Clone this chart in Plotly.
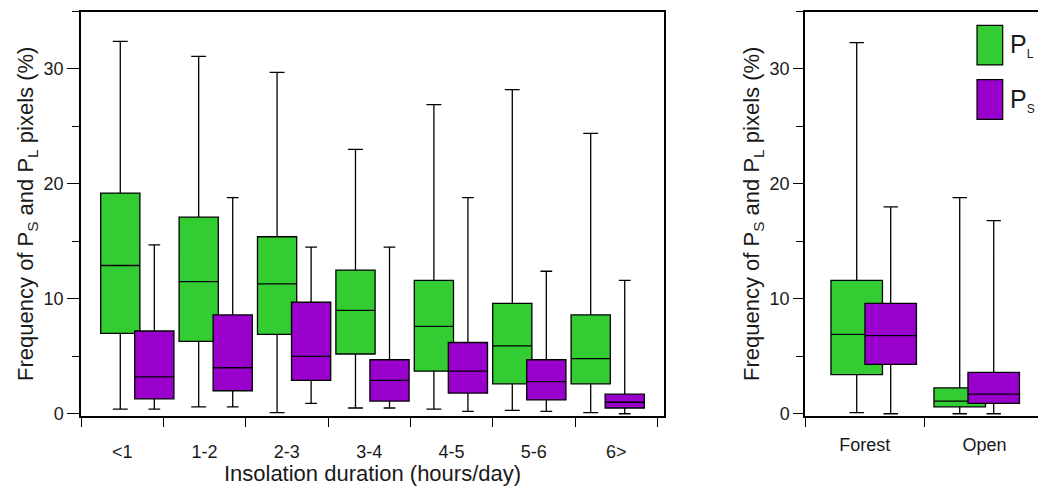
import plotly.graph_objects as go

# ---------------- data ----------------
insolation_cats = ["<1", "1-2", "2-3", "3-4", "4-5", "5-6", "6>"]

pl_upper = [32.4, 31.1, 29.7, 23.0, 26.9, 28.2, 24.4]
pl_q3 = [19.2, 17.1, 15.4, 12.5, 11.6, 9.6, 8.6]
pl_median = [12.9, 11.5, 11.3, 9.0, 7.6, 5.9, 4.8]
pl_q1 = [7.0, 6.3, 6.9, 5.2, 3.7, 2.6, 2.6]
pl_lower = [0.4, 0.6, 0.1, 0.5, 0.4, 0.3, 0.1]

ps_upper = [14.7, 18.8, 14.5, 14.5, 18.8, 12.4, 11.6]
ps_q3 = [7.2, 8.6, 9.7, 4.7, 6.2, 4.7, 1.7]
ps_median = [3.2, 4.0, 5.0, 2.9, 3.7, 2.8, 1.0]
ps_q1 = [1.3, 2.0, 2.9, 1.1, 1.8, 1.2, 0.5]
ps_lower = [0.4, 0.6, 0.9, 0.5, 0.2, 0.2, 0.0]

land_cats = ["Forest", "Open"]
land_pl_upper = [32.3, 18.8]
land_pl_q3 = [11.6, 2.25]
land_pl_median = [6.9, 1.1]
land_pl_q1 = [3.4, 0.6]
land_pl_lower = [0.1, 0.0]

land_ps_upper = [18.0, 16.8]
land_ps_q3 = [9.6, 3.6]
land_ps_median = [6.8, 1.7]
land_ps_q1 = [4.3, 0.9]
land_ps_lower = [0.0, 0.0]

y_ticks = [0, 10, 20, 30]

# ---------------- style ----------------
GREEN = "#33CC33"
PURPLE = "#9900CC"
FONT = "Arial, Liberation Sans, sans-serif"
TXT = "#1a1a1a"
W, H = 1038, 486
PURPLE_OFFSET_L = 0.434
PURPLE_OFFSET_R = 0.33
TICK_FS = 18
TITLE_FS = 22

fig = go.Figure()

n = len(insolation_cats)
xg = list(range(n))
xp = [i + PURPLE_OFFSET_L for i in xg]


def add_box(x, q1, med, q3, lo, hi, color, ww, xa, ya, width):
    fig.add_trace(go.Box(
        x=x, q1=q1, median=med, q3=q3, lowerfence=lo, upperfence=hi,
        width=width, whiskerwidth=ww, fillcolor=color,
        line=dict(color="black", width=1.3), boxpoints=False,
        xaxis=xa, yaxis=ya, showlegend=False, hoverinfo="skip"))


add_box(xg, pl_q1, pl_median, pl_q3, pl_lower, pl_upper, GREEN, 0.38, "x", "y", 0.5)
add_box(xp, ps_q1, ps_median, ps_q3, ps_lower, ps_upper, PURPLE, 0.3, "x", "y", 0.5)

m = len(land_cats)
rg = list(range(m))
rp = [i + PURPLE_OFFSET_R for i in rg]
add_box(rg, land_pl_q1, land_pl_median, land_pl_q3, land_pl_lower, land_pl_upper, GREEN, 0.28, "x2", "y2", 0.5)
add_box(rp, land_ps_q1, land_ps_median, land_ps_q3, land_ps_lower, land_ps_upper, PURPLE, 0.28, "x2", "y2", 0.5)

# invisible traces to register label categories on the overlay axes
fig.add_trace(go.Scatter(x=insolation_cats, y=[0] * n, mode="markers",
                         marker=dict(opacity=0), xaxis="x3", yaxis="y",
                         showlegend=False, hoverinfo="skip"))
fig.add_trace(go.Scatter(x=land_cats, y=[0] * m, mode="markers",
                         marker=dict(opacity=0), xaxis="x4", yaxis="y2",
                         showlegend=False, hoverinfo="skip"))

# geometry (pixels -> paper)
L_X0, L_X1 = 81 / W, 664 / W
R_X0, R_X1 = 805 / W, 1.0
Y0, Y1 = (H - 423) / H, (H - 11.7) / H

ytitle = "Frequency of P<sub>S</sub> and P<sub>L</sub> pixels (%)"
tickfont = dict(size=TICK_FS, color=TXT, family=FONT)
titlefont = dict(size=TITLE_FS, color=TXT, family=FONT)

common_y = dict(range=[-0.2, 35], tickvals=y_ticks, ticks="outside",
                tickcolor="black", showline=True, linecolor="black", linewidth=1.5,
                showgrid=False, zeroline=False, tickfont=tickfont,
                minor=dict(dtick=5, tick0=0, ticks="outside", ticklen=7, tickcolor="black"),
                domain=[Y0, Y1])

fig.update_layout(
    width=W, height=H, autosize=False,
    margin=dict(l=0, r=0, t=0, b=0),
    paper_bgcolor="white", plot_bgcolor="white",
    font=dict(family=FONT, color=TXT),
    xaxis=dict(domain=[L_X0, L_X1], range=[-0.501, 6.935], showticklabels=False,
               ticks="", showline=True, mirror=True, linecolor="black", linewidth=1.5,
               showgrid=False, zeroline=False, anchor="y"),
    xaxis3=dict(overlaying="x", type="category", categoryorder="array",
                categoryarray=insolation_cats, range=[-0.5, 6.581],
                tickson="boundaries", ticks="outside", ticklen=10, tickcolor="black",
                showline=False, showgrid=False, zeroline=False, anchor="y", side="bottom",
                tickfont=tickfont, ticklabelstandoff=23,
                title=dict(text="Insolation duration (hours/day)", font=titlefont, standoff=0)),
    yaxis=dict(anchor="x", mirror=True, ticklen=12,
               title=dict(text=ytitle, font=titlefont, standoff=4),
               **common_y),
    xaxis2=dict(domain=[R_X0, R_X1], range=[-0.502, 1.76], showticklabels=False,
                ticks="", showline=True, mirror=True, linecolor="black", linewidth=1.5,
                showgrid=False, zeroline=False, anchor="y2"),
    xaxis4=dict(overlaying="x2", type="category", categoryorder="array",
                categoryarray=land_cats, range=[-0.5, 1.4465],
                tickson="boundaries", ticks="outside", ticklen=10, tickcolor="black",
                showline=False, showgrid=False, zeroline=False, anchor="y2", side="bottom",
                tickfont=tickfont, ticklabelstandoff=16),
    yaxis2=dict(anchor="x2", mirror=False, ticklen=10,
                title=dict(text=ytitle, font=titlefont, standoff=4),
                **common_y),
)

# legend drawn in the right panel
legend_items = [("P<sub><span style='font-size:12px'>L</span></sub>", GREEN),
                ("P<sub><span style='font-size:12px'>S</span></sub>", PURPLE)]
for k, (label, col) in enumerate(legend_items):
    top = 25.7 + k * 55.3
    fig.add_shape(type="rect", xref="paper", yref="paper",
                  x0=977 / W, x1=1002.7 / W, y0=(H - top - 40.3) / H, y1=(H - top) / H,
                  fillcolor=col, line=dict(color="black", width=1.2))
    fig.add_annotation(xref="paper", yref="paper", x=1008 / W, y=(H - top - 21) / H,
                       text=label, showarrow=False, xanchor="left", yanchor="middle",
                       font=dict(size=25, color=TXT, family=FONT))

fig.write_html("out.html")
